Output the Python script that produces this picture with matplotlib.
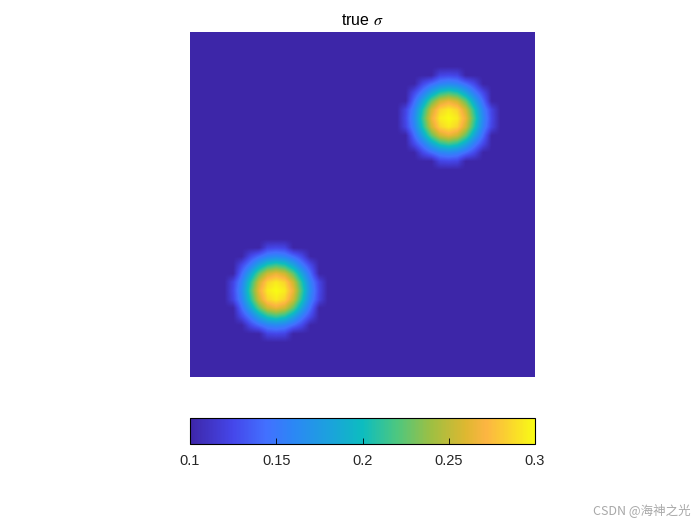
import numpy as np
import matplotlib
matplotlib.use("Agg")
import matplotlib.pyplot as plt
from matplotlib.colors import LinearSegmentedColormap

# blob parameters (unit square domain)
blob_x = [0.25, 0.75]
blob_y = [0.25, 0.75]
blob_peak = [0.3, 0.3]
blob_width = [0.094, 0.094]
blob_shape = [2.6, 2.6]
blob_cut = [0.13, 0.13]
background = 0.1
cbar_ticks = [0.1, 0.15, 0.2, 0.25, 0.3]

# parula-like colormap (colours sampled from the reference colorbar)
parula_pos = [0.0, 0.125, 0.22, 0.3, 0.4, 0.5, 0.6, 0.7, 0.8, 0.86, 0.92, 1.0]
parula_rgb = [
    (0.2422, 0.1504, 0.6603),
    (0.2700, 0.2800, 0.9200),
    (0.2600, 0.4400, 1.0000),
    (0.1700, 0.5300, 0.9600),
    (0.1100, 0.6300, 0.8700),
    (0.0500, 0.7400, 0.7500),
    (0.3000, 0.7800, 0.5000),
    (0.6200, 0.7500, 0.2600),
    (0.8700, 0.7200, 0.1900),
    (0.9900, 0.7100, 0.2600),
    (0.9800, 0.8200, 0.1900),
    (0.9769, 0.9839, 0.0805),
]
parula = LinearSegmentedColormap.from_list("parula", list(zip(parula_pos, parula_rgb)), N=256)

plt.rcParams["font.family"] = ["Liberation Sans", "DejaVu Sans"]
plt.rcParams["mathtext.fontset"] = "stix"

# field sampled on mesh nodes, blob cut off where the node is outside the radius
n_nodes = 41
xn = np.linspace(0, 1, n_nodes)
X, Y = np.meshgrid(xn, xn)
field = np.full_like(X, background)
for bx, by, bp, bw, bs, bc in zip(blob_x, blob_y, blob_peak, blob_width,
                                  blob_shape, blob_cut):
    r = np.sqrt((X - bx) ** 2 + (Y - by) ** 2)
    val = background + (bp - background) * np.exp(-(r / bw) ** bs)
    field = np.where(r < bc, val, field)

fig = plt.figure(figsize=(7, 5.25), dpi=100)
ax = fig.add_axes([190 / 700, 148 / 525, 345 / 700, 345 / 525])
h = 0.5 / (n_nodes - 1)
im = ax.imshow(field, extent=[-h, 1 + h, -h, 1 + h], origin="lower", cmap=parula,
               vmin=0.1, vmax=0.3, interpolation="bilinear", aspect="auto")
ax.set_xlim(0, 1)
ax.set_ylim(0, 1)
ax.set_axis_off()
ax.set_title("true $\\sigma$", fontsize=11.5, pad=5)

cax = fig.add_axes([190 / 700, 81 / 525, 345 / 700, 26 / 525])
cb = fig.colorbar(im, cax=cax, orientation="horizontal", ticks=cbar_ticks)
cb.ax.set_xticklabels(["0.1", "0.15", "0.2", "0.25", "0.3"])
cb.ax.tick_params(direction="in", length=4, labelsize=10.5, pad=7, width=0.6,
                  labelcolor="#262626")
cb.outline.set_linewidth(0.8)

fig.text(0.986, 0.016, "CSDN @海神之光", ha="right", va="bottom", fontsize=9,
         color="#a8a8a8", family=["Noto Sans CJK SC", "DejaVu Sans"])

fig.savefig("out.png", dpi=100)
